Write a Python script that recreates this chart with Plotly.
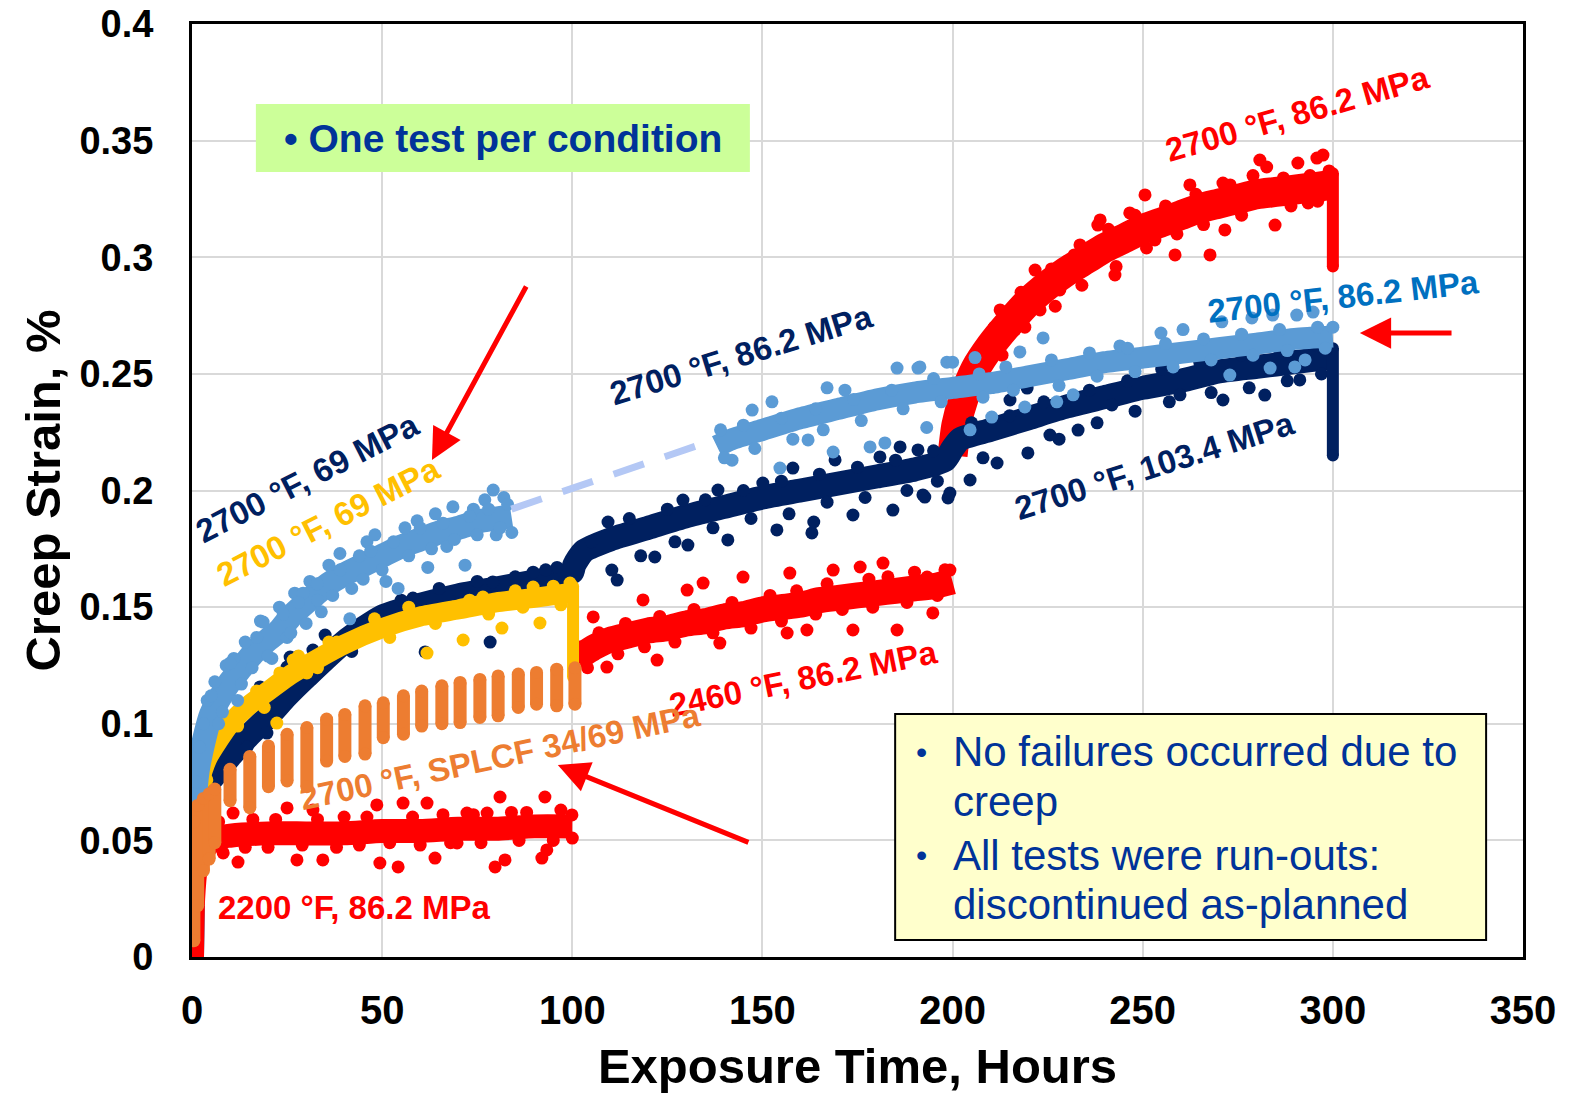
import plotly.graph_objects as go

# ---------------- data ----------------
x_tick_vals = [0, 50, 100, 150, 200, 250, 300, 350]
x_tick_text = ["0", "50", "100", "150", "200", "250", "300", "350"]
y_tick_vals = [0, 0.05, 0.1, 0.15, 0.2, 0.25, 0.3, 0.35, 0.4]
y_tick_text = ["0", "0.05", "0.1", "0.15", "0.2", "0.25", "0.3", "0.35", "0.4"]

# 2700 F, 86.2 MPa (light blue), first segment - trend
lb1_t = [0, 0.3, 0.8, 1.5, 3, 5, 8, 10, 13, 16, 20, 23, 26, 30, 36, 40, 45, 50, 55, 60, 65, 70, 76, 80, 84]
lb1_s = [0.0, 0.04, 0.068, 0.08, 0.092, 0.104, 0.113, 0.118, 0.124, 0.130, 0.136, 0.140, 0.146, 0.152,
         0.160, 0.164, 0.168, 0.172, 0.176, 0.179, 0.182, 0.184, 0.187, 0.188, 0.189]
lb1_out_t = [2, 4, 6, 7, 9, 11, 12, 14, 15.8, 18, 18.7, 21, 23, 25, 27, 29.2, 30, 31, 32.9, 34, 36, 38.9,
             41.5, 44, 46, 48.1, 51, 54.2, 56, 59.2, 62, 64, 67, 68.6, 71.8, 74, 77, 79.2, 80, 82, 84.1,
             1, 3, 5, 8, 10, 13, 17, 20, 24, 26, 28, 33, 37, 39, 42, 45, 47, 50, 53, 57, 60, 63, 66, 69,
             73, 75, 78, 81, 83]
lb1_out_s = [0.09, 0.11, 0.118, 0.1, 0.125, 0.128, 0.11, 0.135, 0.124, 0.144, 0.1436, 0.128, 0.15, 0.137,
             0.156, 0.156, 0.143, 0.161, 0.160, 0.148, 0.168, 0.173, 0.145, 0.172, 0.178, 0.181, 0.161,
             0.158, 0.184, 0.187, 0.167, 0.19, 0.176, 0.193, 0.168, 0.192, 0.196, 0.2002, 0.181, 0.197, 0.182,
             0.075, 0.1, 0.112, 0.105, 0.126, 0.117, 0.137, 0.129, 0.147, 0.139, 0.152, 0.153, 0.155, 0.166,
             0.158, 0.162, 0.174, 0.166, 0.178, 0.172, 0.184, 0.175, 0.186, 0.179, 0.189, 0.181, 0.192,
             0.184, 0.194]
# gap (dashed bridge)
gap_t = [84, 136]
gap_s = [0.192, 0.221]
# second segment
lb2_t = [138, 142, 150, 160, 170, 180, 190, 200, 210, 220, 230, 240, 250, 260, 270, 280, 290, 300]
lb2_s = [0.219, 0.222, 0.226, 0.231, 0.235, 0.239, 0.242, 0.244, 0.246, 0.249, 0.252, 0.255, 0.257,
         0.259, 0.261, 0.263, 0.265, 0.266]
lb2_out_t = [142, 147.3, 152.5, 154.6, 162, 167, 168.6, 171.7, 178.3, 182.2, 185.4, 190.9, 191.4, 193.2,
             198.5, 200, 204.6, 205.9, 210.3, 217.7, 219, 223.8, 227.4, 231.7, 244, 254.8, 260.6, 270.8,
             272.9, 278.7, 283.5, 284.2, 290, 290.5, 292.7, 294.8,
             139, 140, 145, 148, 155, 158, 164, 166, 174, 176, 184, 187, 195, 197, 207, 208, 214, 216, 226,
             228, 236, 238, 246, 248, 256, 258, 266, 268, 276, 279, 286, 288, 296, 298, 300]
lb2_out_s = [0.213, 0.2345, 0.238, 0.2096, 0.2217, 0.244, 0.2165, 0.243, 0.2187, 0.2204, 0.2525, 0.2525,
             0.253, 0.227, 0.255, 0.255, 0.226, 0.257, 0.2315, 0.2594, 0.2358, 0.2654, 0.238, 0.241, 0.262,
             0.2675, 0.269, 0.2723, 0.2495, 0.274, 0.2525, 0.2752, 0.253, 0.2752, 0.256, 0.2765,
             0.226, 0.214, 0.228, 0.218, 0.231, 0.222, 0.235, 0.226, 0.239, 0.23, 0.243, 0.235, 0.248, 0.238,
             0.25, 0.24, 0.253, 0.243, 0.256, 0.245, 0.259, 0.249, 0.261, 0.251, 0.263, 0.253, 0.265, 0.256,
             0.267, 0.258, 0.269, 0.26, 0.27, 0.261, 0.27]

# 2700 F, 69 MPa -> 103.4 MPa (navy)
nv_t = [0, 0.3, 0.8, 2, 4, 7, 10, 15, 20, 25, 30, 40, 50, 60, 70, 80, 90, 97, 100, 100.5, 103, 110, 120,
        130, 140, 150, 160, 170, 180, 190, 198, 200, 202, 210, 220, 230, 240, 250, 260, 270, 280, 290, 299.5]
nv_s = [0.0, 0.035, 0.055, 0.066, 0.074, 0.080, 0.086, 0.095, 0.103, 0.112, 0.12, 0.135, 0.146, 0.151,
        0.155, 0.158, 0.161, 0.163, 0.165, 0.168, 0.174, 0.179, 0.184, 0.189, 0.193, 0.197, 0.200, 0.203,
        0.206, 0.209, 0.213, 0.218, 0.222, 0.226, 0.231, 0.236, 0.240, 0.244, 0.247, 0.251, 0.253, 0.255, 0.257]
nv_drop_t = [300, 300]
nv_drop_s = [0.261, 0.215]
nv_out_t = [5.5, 8.2, 14.5, 17.9, 19.7, 25, 25.8, 27.6, 31.8, 46, 49.4, 58.1, 61.3, 70, 78.4, 79.1, 89.7, 96,
            109.4, 110.4, 111.8, 121.7, 129.1, 130.4, 138.3, 140.9, 150.1, 153.8, 158, 163, 163.5, 169.1,
            173.8, 180.9, 184.3, 186.2, 190.9, 192.2, 192.7, 198.8, 199.3, 204.6, 211.7, 215.1, 219.6, 219.8,
            225.6, 233, 241.9, 259.8, 271.1, 282.1, 291.3,
            105, 115, 118, 125, 127, 135, 137, 145, 147, 155, 157, 165, 167, 175, 177, 185, 188, 195, 196,
            205, 208, 215, 224, 228, 236, 238, 246, 248, 255, 257, 265, 268, 276, 278, 286, 288, 296, 297,
            35, 42, 55, 65, 75, 85, 93]
nv_out_s = [0.0772, 0.0802, 0.09, 0.1158, 0.096, 0.1243, 0.1286, 0.1286, 0.1316, 0.1372, 0.1423, 0.1539,
            0.1308, 0.1565, 0.135, 0.1608, 0.165, 0.167, 0.1865, 0.1659, 0.1616, 0.1715, 0.1959, 0.1766,
            0.2002, 0.1788, 0.2032, 0.1831, 0.2096, 0.1818, 0.1865, 0.2131, 0.1895, 0.2144, 0.1916, 0.2187,
            0.2174, 0.1981, 0.1972, 0.1968, 0.1989, 0.2045, 0.2118, 0.2388, 0.2439, 0.2161, 0.2238, 0.2259,
            0.2367, 0.241, 0.2388, 0.2409, 0.2474,
            0.178, 0.188, 0.172, 0.192, 0.178, 0.196, 0.184, 0.2, 0.188, 0.204, 0.19, 0.207, 0.195, 0.21,
            0.197, 0.213, 0.2, 0.217, 0.204, 0.229, 0.214, 0.232, 0.238, 0.222, 0.243, 0.229, 0.247, 0.234,
            0.252, 0.238, 0.255, 0.242, 0.258, 0.244, 0.26, 0.247, 0.262, 0.25,
            0.138, 0.131, 0.153, 0.158, 0.161, 0.163, 0.166]

# 2700 F, 69 MPa (gold)
yl_t = [0, 0.3, 0.8, 2, 4, 7, 10, 15, 20, 25, 30, 40, 50, 60, 70, 80, 90, 99]
yl_s = [0.0, 0.04, 0.062, 0.075, 0.085, 0.093, 0.100, 0.108, 0.114, 0.120, 0.125, 0.134, 0.141, 0.146,
        0.149, 0.152, 0.154, 0.156]
yl_drop_t = [100.2, 100.2]
yl_drop_s = [0.159, 0.12]
yl_out_t = [3.9, 13.4, 22.3, 23.1, 26.6, 30.2, 38.1, 44.2, 61.8, 68.6, 71.3, 76.5, 81.5, 89.7, 91.5, 99.4,
            2, 5, 8, 12, 17, 19, 28, 33, 36, 48, 52, 57, 64, 73, 78, 85, 87, 95, 97]
yl_out_s = [0.0759, 0.1059, 0.1003, 0.1218, 0.1273, 0.1218, 0.135, 0.1359, 0.1303, 0.15, 0.1359, 0.1543,
            0.141, 0.1586, 0.1432, 0.1603,
            0.082, 0.093, 0.104, 0.099, 0.114, 0.107, 0.129, 0.124, 0.135, 0.145, 0.137, 0.15, 0.143, 0.153,
            0.147, 0.157, 0.15, 0.159, 0.151]

# 2700 F, SPLCF 34/69 MPa (orange) - cycle bars
sp_t = [0.5, 1.5, 3, 4.5, 6, 10.0, 15.2, 20.1, 25.0, 30.2, 35.4, 40.2, 45.5, 50.3, 55.6, 60.4, 65.7, 70.5,
        75.7, 80.5, 85.8, 90.6, 95.9, 100.7]
sp_lo = [0.007, 0.022, 0.037, 0.042, 0.049, 0.067, 0.064, 0.073, 0.0755, 0.073, 0.084, 0.086, 0.087, 0.094,
         0.0955, 0.099, 0.100, 0.1005, 0.1027, 0.1034, 0.107, 0.1084, 0.1077, 0.1084]
sp_hi = [0.058, 0.065, 0.068, 0.070, 0.072, 0.0805, 0.086, 0.0905, 0.0955, 0.0984, 0.102, 0.104, 0.1077,
         0.109, 0.112, 0.114, 0.1163, 0.1177, 0.119, 0.1205, 0.1213, 0.122, 0.1234, 0.124]

# 2200 F, 86.2 MPa (red)
r22_t = [0, 0.3, 1, 2, 4, 6, 10, 20, 30, 40, 50, 60, 70, 80, 90, 100]
r22_s = [0.0, 0.025, 0.038, 0.044, 0.048, 0.051, 0.052, 0.053, 0.053, 0.053, 0.054, 0.054, 0.055, 0.055,
         0.056, 0.056]
r22_out_t = [8.2, 10.8, 12.1, 25, 27.6, 31.8, 34.4, 48.6, 49.4, 54.2, 55.5, 61.8, 63.9, 69.7, 72.3, 77.6,
             79.7, 81, 82.3, 92, 92.8, 93.3, 99.9,
             7, 14, 16, 20, 22, 29, 33, 38, 40, 44, 46, 52, 58, 60, 66, 68, 74, 76, 84, 86, 88, 95, 97, 100]
r22_out_s = [0.0446, 0.0617, 0.0407, 0.0639, 0.0416, 0.063, 0.0416, 0.0652, 0.0403, 0.0386, 0.066, 0.066,
             0.0424, 0.0489, 0.0617, 0.0617, 0.0386, 0.0686, 0.0416, 0.0424, 0.0686, 0.0459, 0.0609,
             0.058, 0.047, 0.059, 0.047, 0.059, 0.048, 0.059, 0.047, 0.06, 0.048, 0.06, 0.049, 0.06, 0.048,
             0.061, 0.049, 0.061, 0.049, 0.062, 0.05, 0.062, 0.05, 0.063, 0.051]

# 2460 F, 86.2 MPa (red)
r24_t = [101, 103, 106, 110, 115, 120, 125, 130, 135, 140, 145, 150, 155, 160, 165, 170, 175, 180, 185,
         190, 195, 200]
r24_s = [0.128, 0.130, 0.133, 0.136, 0.138, 0.140, 0.141, 0.143, 0.144, 0.146, 0.147, 0.149, 0.150, 0.151,
         0.153, 0.154, 0.155, 0.156, 0.157, 0.158, 0.159, 0.161]
r24_out_t = [102, 105.5, 109.1, 116, 118.6, 122.3, 130.2, 134.4, 138.8, 144.9, 156.5, 157.2, 161.7, 168.6,
             173.8, 175.7, 181.7, 185.4, 193.3, 194.8, 199.3,
             104, 107, 112, 114, 119, 123, 127, 132, 137, 142, 147, 152, 155, 159, 164, 167, 171, 178, 179,
             183, 188, 190, 196, 198]
r24_out_s = [0.1329, 0.1458, 0.1243, 0.1389, 0.1531, 0.1273, 0.1573, 0.1603, 0.1346, 0.1629, 0.1389,
             0.1646, 0.1402, 0.1659, 0.1402, 0.1672, 0.1689, 0.1402, 0.1629, 0.1475, 0.1659,
             0.124, 0.139, 0.13, 0.143, 0.133, 0.146, 0.135, 0.149, 0.139, 0.152, 0.141, 0.155, 0.144, 0.157,
             0.147, 0.16, 0.149, 0.162, 0.15, 0.163, 0.152, 0.165, 0.155, 0.166]

# 2700 F, 86.2 MPa (red)
r27_t = [200, 201, 203, 206, 210, 215, 220, 225, 230, 235, 240, 245, 250, 255, 260, 265, 270, 275, 280,
         285, 290, 295, 299.5]
r27_s = [0.215, 0.228, 0.240, 0.252, 0.262, 0.272, 0.281, 0.288, 0.294, 0.299, 0.304, 0.308, 0.312, 0.315,
         0.318, 0.321, 0.323, 0.325, 0.327, 0.328, 0.329, 0.330, 0.331]
r27_drop_t = [300, 300]
r27_drop_s = [0.336, 0.296]
r27_out_t = [209.8, 212.5, 216.4, 221.7, 223, 228.2, 233.5, 238.2, 238.8, 242.7, 246.6, 250.6, 253.2,
             258.5, 262.4, 267.7, 271.1, 271.6, 280.8, 282.6, 284.8, 290.8, 293.5, 295.8, 297.4,
             202, 204, 207, 211, 213, 218, 219, 226, 227, 232, 234, 241, 243, 248, 251, 256, 259, 264, 266,
             273, 276, 279, 287, 289, 294, 296, 299]
r27_out_s = [0.256, 0.2774, 0.2688, 0.2945, 0.2774, 0.286, 0.3053, 0.3138, 0.316, 0.2924, 0.319, 0.3267,
             0.3074, 0.301, 0.331, 0.301, 0.3318, 0.3117, 0.3417, 0.3387, 0.3138, 0.3404, 0.3233, 0.3425,
             0.3438,
             0.236, 0.25, 0.242, 0.27, 0.258, 0.285, 0.27, 0.295, 0.279, 0.301, 0.288, 0.312, 0.296, 0.318,
             0.304, 0.322, 0.31, 0.327, 0.314, 0.331, 0.318, 0.335, 0.334, 0.322, 0.335, 0.324, 0.337]

# ---------------- styles ----------------
C_LB = "#5B9BD5"
C_NV = "#002060"
C_YL = "#FFC000"
C_OR = "#ED7D31"
C_RD = "#FF0000"
C_DASH = "#B4C8F5"
C_TXT = "#003399"
FONT = "Liberation Sans, Arial, sans-serif"
MS = 13

fig = go.Figure()


def band(t, s, color, width):
    fig.add_trace(go.Scatter(x=t, y=s, mode="lines",
                             line=dict(color=color, width=width, shape="spline", smoothing=0.6),
                             hoverinfo="skip", showlegend=False))


def dots(t, s, color):
    fig.add_trace(go.Scatter(x=t, y=s, mode="markers",
                             marker=dict(color=color, size=MS, line=dict(width=0)),
                             hoverinfo="skip", showlegend=False))


def drop(t, s, color):
    fig.add_trace(go.Scatter(x=t, y=s, mode="lines+markers", line=dict(color=color, width=MS - 1),
                             marker=dict(color=color, size=MS - 1, line=dict(width=0)),
                             hoverinfo="skip", showlegend=False))


# red 2700 (bottom layer)
band(r27_t, r27_s, C_RD, 30)
dots(r27_out_t, r27_out_s, C_RD)
drop(r27_drop_t, r27_drop_s, C_RD)
# red 2460
band(r24_t, r24_s, C_RD, 26)
dots(r24_out_t, r24_out_s, C_RD)
# navy
band(nv_t, nv_s, C_NV, 24)
dots(nv_out_t, nv_out_s, C_NV)
drop(nv_drop_t, nv_drop_s, C_NV)
# gold
band(yl_t, yl_s, C_YL, 20)
dots(yl_out_t, yl_out_s, C_YL)
drop(yl_drop_t, yl_drop_s, C_YL)
# light blue
band(lb1_t, lb1_s, C_LB, 24)
dots(lb1_out_t, lb1_out_s, C_LB)
fig.add_trace(go.Scatter(x=gap_t, y=gap_s, mode="lines",
                         line=dict(color=C_DASH, width=7, dash="32px,22px"),
                         hoverinfo="skip", showlegend=False))
band(lb2_t, lb2_s, C_LB, 22)
dots(lb2_out_t, lb2_out_s, C_LB)
# red 2200
band(r22_t, r22_s, C_RD, 24)
dots(r22_out_t, r22_out_s, C_RD)
# orange SPLCF bars
bx, by = [], []
for t, lo, hi in zip(sp_t, sp_lo, sp_hi):
    bx += [t, t, None]
    by += [lo, hi, None]
fig.add_trace(go.Scatter(x=bx, y=by, mode="lines+markers", line=dict(color=C_OR, width=MS),
                         marker=dict(color=C_OR, size=MS, line=dict(width=0)),
                         hoverinfo="skip", showlegend=False))

# ---------------- labels ----------------
labels = [
    ("2700 °F, 86.2 MPa", 290.6, 0.3618, -16, C_RD),
    ("2700 °F, 86.2 MPa", 144.6, 0.2581, -17, C_NV),
    ("2700 °F, 103.4 MPa", 253.2, 0.2109, -17.5, C_NV),
    ("2460 °F, 86.2 MPa", 160.7, 0.1196, -11.5, C_RD),
    ("2700 °F, SPLCF 34/69 MPa", 81.0, 0.0858, -12, C_OR),
    ("2700 °F, 69 MPa", 30.5, 0.2054, -27, C_NV),
    ("2700 °F, 69 MPa", 35.8, 0.1865, -27, C_YL),
    ("2700 °F, 86.2 MPa", 302.7, 0.2830, -6.3, "#0070C0"),
    ("2200 °F, 86.2 MPa", 42.6, 0.0214, 0, C_RD),
]
for txt, x, y, ang, col in labels:
    fig.add_annotation(x=x, y=y, text="<b>" + txt + "</b>", showarrow=False, textangle=ang,
                       xanchor="center", yanchor="middle",
                       font=dict(family=FONT, size=33, color=col))

# red arrows (head, tail)
arrows = [((63.1, 0.2131), (88.1, 0.2881)),
          ((96.2, 0.0823), (146.7, 0.0489)),
          ((307.1, 0.2675), (331.6, 0.2675))]
for (hx, hy), (tx, ty) in arrows:
    fig.add_annotation(x=hx, y=hy, ax=tx, ay=ty, xref="x", yref="y", axref="x", ayref="y",
                       text="", showarrow=True, arrowhead=2, arrowsize=1.25, arrowwidth=5,
                       arrowcolor=C_RD, standoff=0)

# boxes
fig.add_shape(type="rect", x0=16.8, x1=146.7, y0=0.3366, y1=0.3657, xref="x", yref="y",
              fillcolor="#CCFF99", line=dict(width=0), layer="above")
fig.add_annotation(x=81.7, y=0.3511, text="<b>• One test per condition</b>", showarrow=False,
                   xanchor="center", yanchor="middle", font=dict(family=FONT, size=39, color=C_TXT))

fig.add_shape(type="rect", x0=184.9, x1=340.3, y0=0.0073, y1=0.1042, xref="x", yref="y",
              fillcolor="#FFFFCC", line=dict(color="black", width=2), layer="above")
box_lines = [("No failures occurred due to", 0.0879, True),
             ("creep", 0.0665, False),
             ("All tests were run-outs:", 0.0437, True),
             ("discontinued as-planned", 0.0223, False)]
for txt, y, bullet in box_lines:
    fig.add_annotation(x=199.6, y=y, text=txt, showarrow=False, xanchor="left", yanchor="middle",
                       font=dict(family=FONT, size=42, color=C_TXT))
    if bullet:
        fig.add_annotation(x=191.8, y=y, text="•", showarrow=False, xanchor="center", yanchor="middle",
                           font=dict(family=FONT, size=32, color=C_TXT))

# ---------------- layout ----------------
fig.update_layout(
    width=1570, height=1096,
    margin=dict(l=192, r=47, t=24, b=139, autoexpand=False),
    plot_bgcolor="white", paper_bgcolor="white",
    showlegend=False,
    font=dict(family=FONT, color="black"),
    xaxis=dict(range=[0, 350], tickvals=x_tick_vals, ticktext=x_tick_text, automargin=False,
               showgrid=True, gridcolor="#D9D9D9", gridwidth=1.5, zeroline=False,
               showline=True, linecolor="black", linewidth=3, mirror=True, ticks="",
               ticklabelstandoff=16, ticklabeloverflow="allow",
               tickfont=dict(family=FONT, size=40, color="black", weight="bold"),
               title=dict(text="Exposure Time, Hours", standoff=18,
                          font=dict(family=FONT, size=49, color="black", weight="bold"))),
    yaxis=dict(range=[0, 0.4], tickvals=y_tick_vals, ticktext=y_tick_text, automargin=False,
               showgrid=True, gridcolor="#D9D9D9", gridwidth=1.5, zeroline=False,
               showline=True, linecolor="black", linewidth=3, mirror=True, ticks="",
               ticklabelstandoff=28, ticklabeloverflow="allow",
               tickfont=dict(family=FONT, size=38, color="black", weight="bold"),
               title=dict(text="Creep Strain, %", standoff=4,
                          font=dict(family=FONT, size=49, color="black", weight="bold"))),
)

# remove the browser's default 8 px page margin so the figure fills the window exactly
fig.write_html("out.html", config={"displayModeBar": False},
               post_script="document.body.style.margin='0';")
